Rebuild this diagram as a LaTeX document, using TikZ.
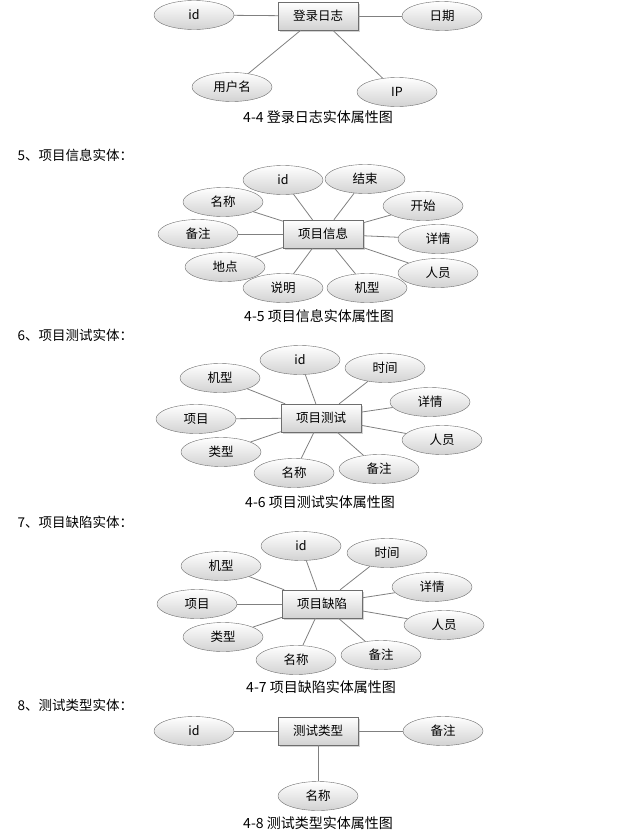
\documentclass[tikz,border=0pt]{standalone}
\usepackage{fontspec}
\setmainfont{Noto Sans CJK SC}
\usetikzlibrary{shapes.geometric,shadows}
\definecolor{edge}{HTML}{6E6E6E}
\definecolor{wire}{HTML}{808080}
\definecolor{shade}{HTML}{D2D2D2}

\begin{document}
\begin{tikzpicture}[x=1pt,y=-1pt,font=\fontsize{12.5}{14}\selectfont,entity/.style={draw=edge,top color=white,bottom color=shade,minimum width=80pt,minimum height=28pt,inner sep=0pt,drop shadow={opacity=.35,shadow xshift=1.5pt,shadow yshift=-1.5pt}},attr/.style={ellipse,draw=edge,top color=white,bottom color=shade,minimum width=80pt,minimum height=29pt,inner sep=0pt},link/.style={wire,line width=.8pt},caption/.style={font=\fontsize{14}{16}\selectfont},heading/.style={anchor=west,font=\fontsize{13.5}{16}\selectfont}]
 \useasboundingbox (0,0) rectangle (636,835);
 % 4-4
 \node[entity] (log) at (318,16) {登录日志};
 \node[attr] (logid) at (194,15) {id}; \node[attr] (logdate) at (442,16) {日期};
 \node[attr] (loguser) at (232,87) {用户名}; \node[attr] (logip) at (397,92) {IP};
 \draw[link] (log)--(logid); \draw[link] (log)--(logdate); \draw[link] (log)--(loguser); \draw[link] (log)--(logip);
 \node[caption] (cap4) at (318,117) {4-4 登录日志实体属性图};
 % 4-5
 \node[heading] (head5) at (14,155) {5、项目信息实体：};
 \node[entity] (info) at (323,234) {项目信息};
 \node[attr] (infoid) at (283,180) {id}; \node[attr] (infoend) at (365,179) {结束};
 \node[attr] (infostart) at (423,206) {开始}; \node[attr] (infodetail) at (438,239) {详情};
 \node[attr] (infostaff) at (438,273) {人员}; \node[attr] (infomodel) at (367,288) {机型};
 \node[attr] (infodesc) at (283,288) {说明}; \node[attr] (infoplace) at (225,267) {地点};
 \node[attr] (infonote) at (198,234) {备注}; \node[attr] (infoname) at (223,202) {名称};
 \draw[link] (info)--(infoid); \draw[link] (info)--(infoend); \draw[link] (info)--(infostart); \draw[link] (info)--(infodetail); \draw[link] (info)--(infostaff);
 \draw[link] (info)--(infomodel); \draw[link] (info)--(infodesc); \draw[link] (info)--(infoplace); \draw[link] (info)--(infonote); \draw[link] (info)--(infoname);
 \node[caption] (cap5) at (319,316) {4-5 项目信息实体属性图};
 % 4-6
 \node[heading] (head6) at (14,335) {6、项目测试实体：};
 \node[entity] (test) at (321,418) {项目测试};
 \node[attr] (testid) at (300,360) {id}; \node[attr] (testtime) at (385,368) {时间};
 \node[attr] (testdetail) at (430,402) {详情}; \node[attr] (teststaff) at (442,440) {人员};
 \node[attr] (testnote) at (379,469) {备注}; \node[attr] (testname) at (294,473) {名称};
 \node[attr] (testtype) at (221,452) {类型}; \node[attr] (testproj) at (196,419) {项目};
 \node[attr] (testmodel) at (220,378) {机型};
 \draw[link] (test)--(testid); \draw[link] (test)--(testtime); \draw[link] (test)--(testdetail); \draw[link] (test)--(teststaff); \draw[link] (test)--(testnote);
 \draw[link] (test)--(testname); \draw[link] (test)--(testtype); \draw[link] (test)--(testproj); \draw[link] (test)--(testmodel);
 \node[caption] (cap6) at (320,502) {4-6 项目测试实体属性图};
 % 4-7
 \node[heading] (head7) at (14,522) {7、项目缺陷实体：};
 \node[entity] (defect) at (322,604) {项目缺陷};
 \node[attr] (defectid) at (301,546) {id}; \node[attr] (defecttime) at (387,553) {时间};
 \node[attr] (defectdetail) at (432,587) {详情}; \node[attr] (defectstaff) at (444,625) {人员};
 \node[attr] (defectnote) at (381,655) {备注}; \node[attr] (defectname) at (296,660) {名称};
 \node[attr] (defecttype) at (223,637) {类型}; \node[attr] (defectproj) at (197,604) {项目};
 \node[attr] (defectmodel) at (221,566) {机型};
 \draw[link] (defect)--(defectid); \draw[link] (defect)--(defecttime); \draw[link] (defect)--(defectdetail); \draw[link] (defect)--(defectstaff); \draw[link] (defect)--(defectnote);
 \draw[link] (defect)--(defectname); \draw[link] (defect)--(defecttype); \draw[link] (defect)--(defectproj); \draw[link] (defect)--(defectmodel);
 \node[caption] (cap7) at (321,687) {4-7 项目缺陷实体属性图};
 % 4-8
 \node[heading] (head8) at (14,705) {8、测试类型实体：};
 \node[entity] (kind) at (318,731) {测试类型};
 \node[attr] (kindid) at (194,731) {id}; \node[attr] (kindnote) at (443,731) {备注};
 \node[attr] (kindname) at (318,796) {名称};
 \draw[link] (kind)--(kindid); \draw[link] (kind)--(kindnote); \draw[link] (kind)--(kindname);
 \node[caption] (cap8) at (318,823) {4-8 测试类型实体属性图};
\end{tikzpicture}
\end{document}
